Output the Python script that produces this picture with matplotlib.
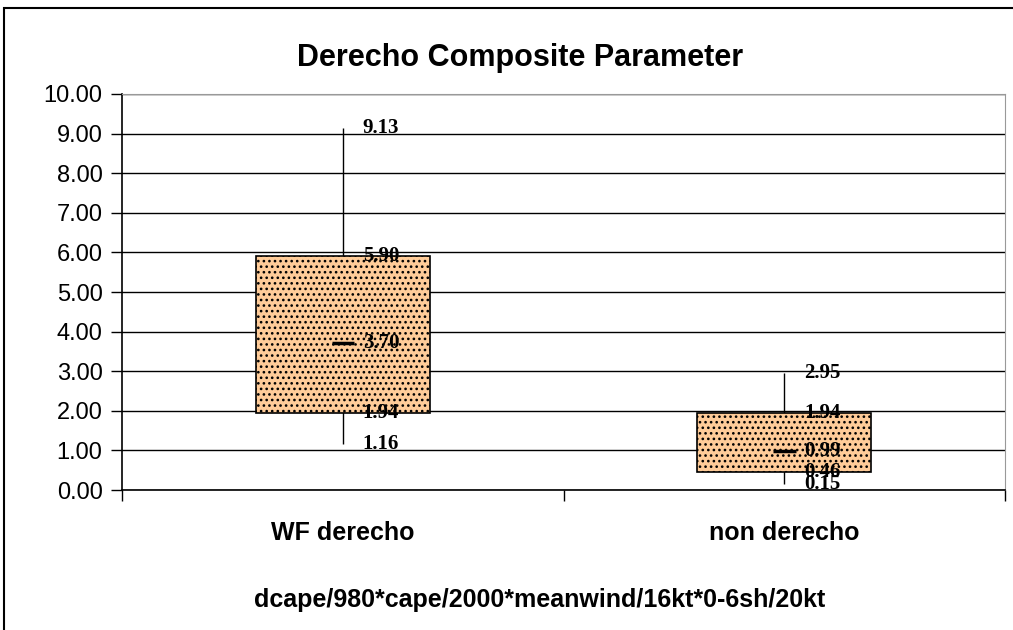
import numpy as np
import matplotlib
matplotlib.use("Agg")
import matplotlib.pyplot as plt
from matplotlib.patches import Rectangle

plt.rcParams['hatch.linewidth'] = 1.1

categories = ["WF derecho", "non derecho"]
whisker_low = [1.16, 0.15]
box_low = [1.94, 0.46]
median = [3.70, 0.99]
box_high = [5.90, 1.94]
whisker_high = [9.13, 2.95]

fig = plt.figure(figsize=(10.13, 6.3), dpi=100)
ax = fig.add_axes([0.1204, 0.2222, 0.872, 0.6286])

# outer chart frame
fig.patches.append(Rectangle((4 / 1013, -0.1), 1.2, (630 - 8) / 630 + 0.1,
                             transform=fig.transFigure, fill=False,
                             edgecolor="black", linewidth=1.5, zorder=0))

x = np.arange(len(categories))

ax.vlines(x, whisker_low, whisker_high, color="black", linewidth=1, zorder=2)
ax.bar(x, np.array(box_high) - np.array(box_low), bottom=box_low, width=0.394,
       color="#FFCC99", edgecolor="black", hatch="...", linewidth=1.2, zorder=3)
ax.hlines(median, x - 0.025, x + 0.025, color="black", linewidth=2.5, zorder=4)

for i in range(len(categories)):
    for v in [whisker_high[i], box_high[i], median[i], box_low[i], whisker_low[i]]:
        ax.text(x[i] + 0.045, v, "%.2f" % v, ha="left", va="center",
                family="Liberation Serif", fontsize=15, fontweight="bold",
                zorder=5)

ax.set_xlim(-0.5, 1.5)
ax.set_ylim(0, 10)
ax.set_yticks(np.arange(0, 11, 1))
ax.set_yticklabels(["%.2f" % v for v in np.arange(0, 11, 1)],
                   family="Liberation Sans", fontsize=17)
ax.yaxis.grid(True, color="black", linewidth=1)
ax.set_axisbelow(True)

ax.set_xticks([-0.5, 0.5, 1.5])
ax.set_xticklabels([])
ax.set_xticks(x, minor=True)
ax.set_xticklabels(categories, minor=True, family="Liberation Sans",
                   fontsize=18, fontweight="bold")
ax.tick_params(axis="x", which="minor", length=0, pad=22)
ax.tick_params(axis="x", which="major", length=8, direction="out", width=1)
ax.tick_params(axis="y", length=8, direction="out", width=1, pad=6)

for side in ["top", "right"]:
    ax.spines[side].set_color("#999999")
    ax.spines[side].set_linestyle((0, (1, 1)))
for side in ["left", "bottom"]:
    ax.spines[side].set_linewidth(1.2)

fig.text(520 / 1013, 1 - 58 / 630, "Derecho Composite Parameter",
         family="Liberation Sans", fontsize=22, fontweight="bold",
         ha="center", va="center")
fig.text(540 / 1013, 1 - 600 / 630, "dcape/980*cape/2000*meanwind/16kt*0-6sh/20kt",
         family="Liberation Sans", fontsize=18, fontweight="bold",
         ha="center", va="center")

fig.savefig("out.png", dpi=100)
